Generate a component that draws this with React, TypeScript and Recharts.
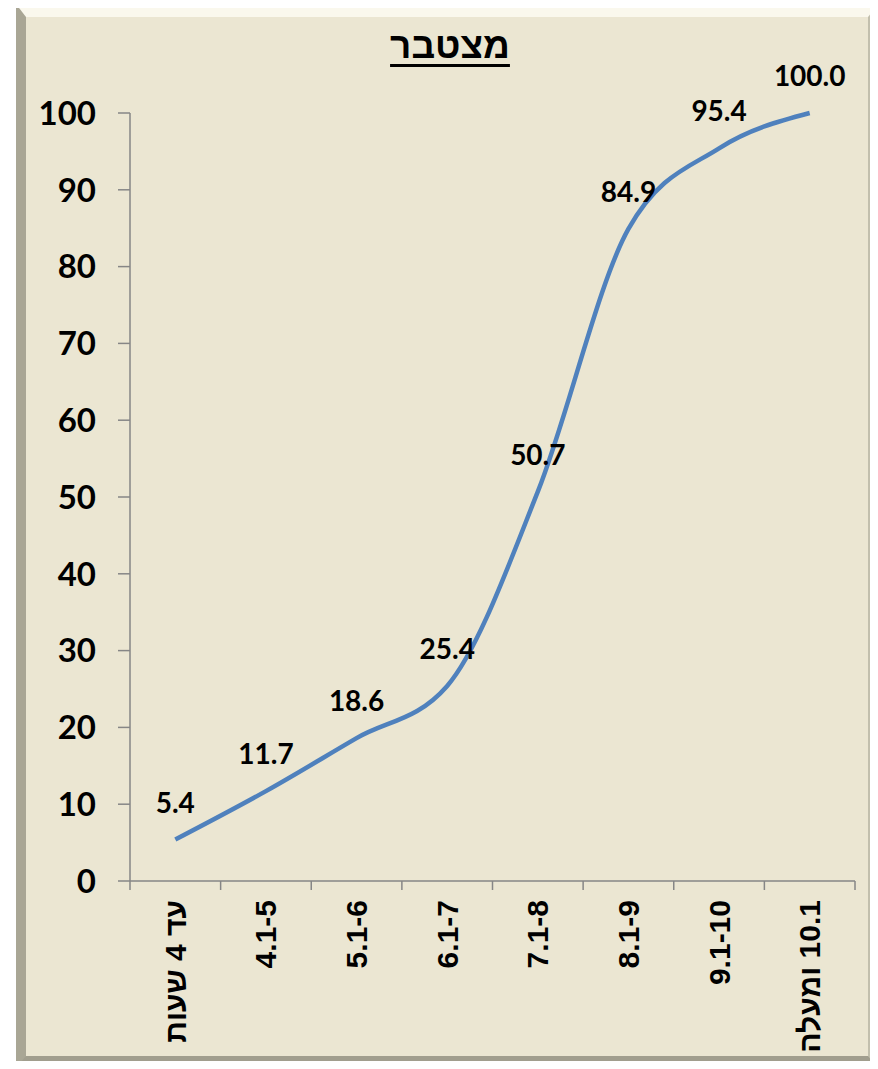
import React from 'react';
import { LineChart, Line, XAxis, YAxis, LabelList } from 'recharts';

const categories = ['עד 4 שעות', '4.1-5', '5.1-6', '6.1-7', '7.1-8', '8.1-9', '9.1-10', '10.1 ומעלה'];
const cumulative = [5.4, 11.7, 18.6, 25.4, 50.7, 84.9, 95.4, 100.0];
const yTicks = [0, 10, 20, 30, 40, 50, 60, 70, 80, 90, 100];

const data = categories.map((name, i) => ({ name, value: cumulative[i] }));

const W = 878;
const H = 1069;
const HALF_STEP = (855 - 130) / categories.length / 2;

// hebrew labels are laid out right-to-left inside the rotated text
const rtl = (s: string) => (/[\u0590-\u05FF]/.test(s) ? '\u202B' + s + '\u202C' : s);

const XTick: React.FC<any> = ({ x, y, payload, index }) => {
  const axisY = y - 8;
  return (
    <g>
      <line x1={x - HALF_STEP} y1={axisY} x2={x - HALF_STEP} y2={axisY + 9} stroke="#868686" strokeWidth={1.5} />
      {index === categories.length - 1 && (
        <line x1={x + HALF_STEP} y1={axisY} x2={x + HALF_STEP} y2={axisY + 9} stroke="#868686" strokeWidth={1.5} />
      )}
      <g transform={`translate(${x},${axisY + 19})`}>
        <text
          transform="rotate(-90)"
          textAnchor="end"
          dominantBaseline="central"
          fontFamily="'Liberation Sans', Arial, sans-serif"
          fontWeight="bold"
          fontSize={30}
          fill="#000"
        >
          {rtl(payload.value)}
        </text>
      </g>
    </g>
  );
};

export default function App() {
  return (
    <div style={{ position: 'relative', width: W, height: H, margin: -8, overflow: 'hidden', background: '#fff' }}>
      <div
        style={{
          position: 'absolute',
          left: 16,
          top: 4,
          width: 862,
          height: 1064,
          boxSizing: 'border-box',
          background: '#EBE6D2',
          borderStyle: 'solid',
          borderWidth: '13px 10px 12px 10px',
          borderColor: '#FAF8ED #C2BFAD #A19E8E #A9A695',
        }}
      />
      <div
        style={{
          position: 'absolute',
          left: 0,
          width: 900,
          top: 24,
          textAlign: 'center',
          fontFamily: "'Liberation Sans', Arial, sans-serif",
          fontWeight: 'bold',
          fontSize: 37,
          lineHeight: '44px',
          textDecoration: 'underline',
          textDecorationThickness: 3,
          textUnderlineOffset: 6,
          color: '#000',
          direction: 'rtl',
        }}
      >
        מצטבר
      </div>
      <div style={{ position: 'absolute', left: 0, top: 0 }}>
        <LineChart width={W} height={H} data={data} margin={{ top: 113, right: 23, bottom: 0, left: 0 }}>
          <XAxis
            dataKey="name"
            height={188}
            padding={{ left: HALF_STEP, right: HALF_STEP }}
            axisLine={{ stroke: '#868686', strokeWidth: 1.5 }}
            tickLine={false}
            tick={<XTick />}
            interval={0}
          />
          <YAxis
            width={130}
            domain={[0, 100]}
            ticks={yTicks}
            interval={0}
            axisLine={{ stroke: '#868686', strokeWidth: 1.5 }}
            tickLine={{ stroke: '#868686', strokeWidth: 1.5 }}
            tickSize={12}
            tickMargin={22}
            tick={{ fill: '#000', fontFamily: 'Lato, sans-serif', fontWeight: 'bold', fontSize: 33 }}
          />
          <Line
            type="monotone"
            dataKey="value"
            stroke="#4F81BD"
            strokeWidth={4.5}
            dot={false}
            isAnimationActive={false}
          >
            <LabelList
              dataKey="value"
              position="top"
              offset={27}
              formatter={(v: any) => Number(v).toFixed(1)}
              style={{ fill: '#000', fontFamily: 'Lato, sans-serif', fontWeight: 'bold', fontSize: 28 }}
            />
          </Line>
        </LineChart>
      </div>
    </div>
  );
}
